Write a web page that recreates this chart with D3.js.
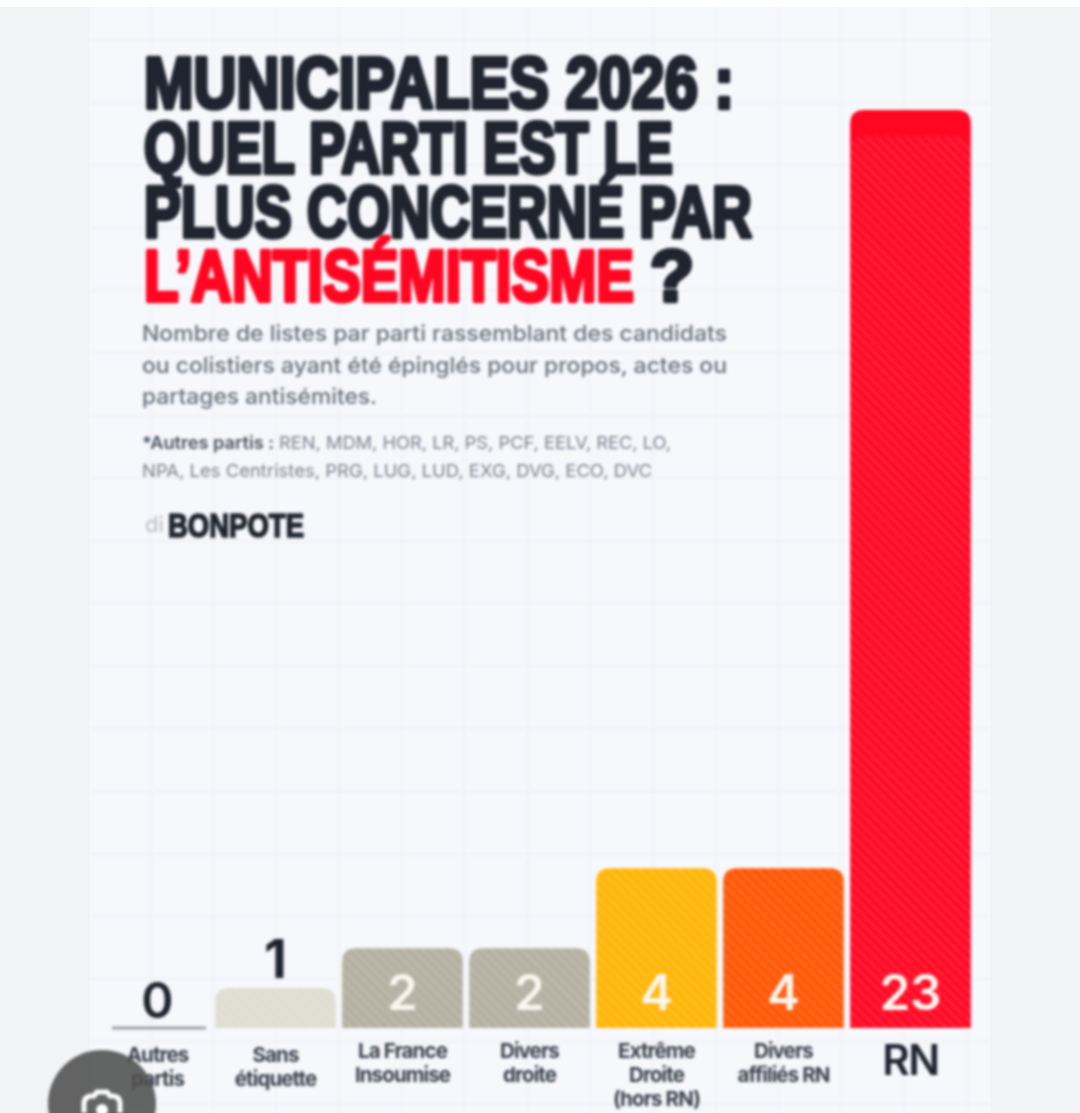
<!DOCTYPE html>
<html lang="fr"><head><meta charset="utf-8">
<script src="https://cdnjs.cloudflare.com/ajax/libs/d3/7.8.5/d3.min.js"></script>
<style>html,body{margin:0;padding:0;background:#fff;overflow:hidden}svg{display:block}
#soft{filter:blur(1.5px)}</style></head><body><svg id="c" width="1080" height="1113"></svg>
<script>
const categories=["Autres partis","Sans étiquette","La France Insoumise","Divers droite","Extrême Droite (hors RN)","Divers affiliés RN","RN"];
const values=[0,1,2,2,4,4,23];
const colors=["#8f9096","#dfdcd1","#b3afa0","#b3afa0","#ffb506","#ff5604","#ff0622"];
const labelLines=[["Autres","partis"],["Sans","étiquette"],["La France","Insoumise"],["Divers","droite"],["Extrême","Droite","(hors RN)"],["Divers","affiliés RN"],["RN"]];
const titleLines=[["MUNICIPALES 2026 :",144,590,108],["QUEL PARTI EST LE",144,529,173],["PLUS CONCERNÉ PAR",144,608,237]];
const subtitleLines=[["Nombre de listes par parti rassemblant des candidats",585],["ou colistiers ayant été épinglés pour propos, actes ou",585],["partages antisémites.",235]];
const footLines=[["REN, MDM, HOR, LR, PS, PCF, EELV, REC, LO,",392],["NPA, Les Centristes, PRG, LUG, LUD, EXG, DVG, ECO, DVC",510]];

const svg=d3.select("#c");
const ink="#20242f";
svg.append("rect").attr("width",1080).attr("height",1113).attr("fill","#fff");
svg.append("rect").attr("y",7).attr("width",1080).attr("height",1106).attr("fill","#f2f3f5");
svg.append("rect").attr("x",90).attr("y",7).attr("width",900).attr("height",1106).attr("fill","#f6f8fc");
const g=svg.append("g").attr("id","soft");
// background grid
g.append("g").selectAll("line").data(d3.range(150.6,990,62.8)).join("line")
 .attr("x1",d=>d).attr("x2",d=>d).attr("y1",7).attr("y2",1113).attr("stroke","#f0f1f6").attr("stroke-width",1.6);
g.append("g").selectAll("line").data(d3.range(40,1113,62.6)).join("line")
 .attr("y1",d=>d).attr("y2",d=>d).attr("x1",90).attr("x2",990).attr("stroke","#f0f1f6").attr("stroke-width",1.6);

const defs=svg.append("defs");
const pat=defs.append("pattern").attr("id","hatch").attr("patternUnits","userSpaceOnUse")
 .attr("width",7).attr("height",7).attr("patternTransform","rotate(45)");
pat.append("rect").attr("width",7).attr("height",3.5).attr("fill","#fff").attr("opacity",0.1);

const x=d3.scaleBand().domain(categories).range([85,974]).paddingInner(0.05).paddingOuter(0.025);
const y=d3.scaleLinear().domain([0,23]).range([1028,110]);
const bw=x.bandwidth();
const firstShift=9;
const cx=(d,i)=>x(d)+bw/2+(i===0?firstShift:0);
const r=14;
const barPath=(l,t,w,b)=>`M${l},${b}V${t+r}Q${l},${t} ${l+r},${t}H${l+w-r}Q${l+w},${t} ${l+w},${t+r}V${b}Z`;
const bars=categories.map((c,i)=>({c,i,v:values[i],col:colors[i]})).filter(d=>d.v>0);
g.append("g").selectAll("path").data(bars).join("path")
 .attr("d",d=>barPath(x(d.c),y(d.v),bw,y(0))).attr("fill",d=>d.col);
g.append("g").selectAll("path").data(bars).join("path")
 .attr("d",d=>barPath(x(d.c),y(d.v)+(d.v>10?26:0),bw,y(0))).attr("fill","url(#hatch)");
// zero bar
g.append("line").attr("x1",112).attr("x2",206).attr("y1",y(0)).attr("y2",y(0)).attr("stroke",colors[0]).attr("stroke-width",2.5);

const num="Inter, 'Noto Sans', sans-serif";
g.append("g").selectAll("text").data(categories).join("text")
 .attr("x",cx)
 .attr("y",(d,i)=>values[i]<2?y(values[i])-10:1010)
 .attr("text-anchor","middle").attr("font-family",num).attr("font-size",(d,i)=>i===1?53:49).attr("font-weight",(d,i)=>i===1?700:600)
 .attr("fill",(d,i)=>values[i]<2?ink:"#fbf6ee").text((d,i)=>values[i]);

// category labels
const lab=g.append("g").selectAll("g").data(categories).join("g")
 .attr("transform",(d,i)=>`translate(${cx(d,i)},0)`);
lab.selectAll("text").data((d,i)=>labelLines[i].map((t,j)=>({t,j,i}))).join("text")
 .attr("text-anchor","middle").attr("font-family",num)
 .attr("y",d=>d.i===6?1075:(d.i<2?1062:1058)+d.j*24)
 .attr("font-size",d=>d.i===6?42:20.5).attr("font-weight",d=>d.i===6?600:700)
 .attr("letter-spacing",d=>d.i===6?-1.5:-0.9).attr("fill",d=>d.i===6?ink:"#3a3f4b").text(d=>d.t);

// title
const tf="'Liberation Sans Narrow','Liberation Sans',sans-serif";
const tg=g.append("g").attr("font-family",tf).attr("font-size",72).attr("font-weight",700).attr("stroke-width",4.6).attr("stroke-linejoin","round");
tg.selectAll("text.l").data(titleLines).join("text").attr("class","l")
 .attr("x",d=>d[1]).attr("y",d=>d[3]).attr("textLength",d=>d[2]).attr("lengthAdjust","spacingAndGlyphs")
 .attr("fill",ink).attr("stroke",ink).text(d=>d[0]);
tg.append("text").attr("x",144).attr("y",301).attr("textLength",490).attr("lengthAdjust","spacingAndGlyphs")
 .attr("fill","#ff0622").attr("stroke","#ff0622").text("L’ANTISÉMITISME");
tg.append("text").attr("x",650).attr("y",301).attr("fill",ink).attr("stroke",ink).text("?");

// subtitle
g.append("g").selectAll("text").data(subtitleLines).join("text")
 .attr("x",142).attr("y",(d,i)=>341+i*31.5).attr("font-family",num).attr("font-size",21).attr("font-weight",500)
 .attr("textLength",d=>d[1]).attr("lengthAdjust","spacingAndGlyphs").attr("fill","#6a707c").text(d=>d[0]);
// footnote
const fn=g.append("g").attr("font-family",num).attr("font-size",17.5).attr("fill","#7b808b");
fn.append("text").attr("x",142).attr("y",449).attr("font-weight",600).attr("fill","#4a4f5a")
 .attr("textLength",132).attr("lengthAdjust","spacingAndGlyphs").text("*Autres partis :");
fn.append("text").attr("x",279).attr("y",449).attr("textLength",footLines[0][1]).attr("lengthAdjust","spacingAndGlyphs").text(footLines[0][0]);
fn.append("text").attr("x",142).attr("y",477).attr("textLength",footLines[1][1]).attr("lengthAdjust","spacingAndGlyphs").text(footLines[1][0]);
// logo
g.append("text").attr("x",145).attr("y",532).attr("font-family",num).attr("font-size",22).attr("fill","#b9bcc4").text("di");
g.append("text").attr("x",168).attr("y",537).attr("textLength",136).attr("lengthAdjust","spacingAndGlyphs")
 .attr("font-family",tf).attr("font-weight",700).attr("font-size",33).attr("fill",ink).attr("stroke",ink).attr("stroke-width",1.6).text("BONPOTE");

// overlay button from the screenshot
const cam=g.append("g");
cam.append("circle").attr("cx",102).attr("cy",1104).attr("r",54).attr("fill","#4f4f4f").attr("opacity",0.88);
cam.append("path").attr("d","M84,1113V1104Q84,1096 92,1096H94L97,1092H107L110,1096H112Q120,1096 120,1104V1113").attr("fill","none").attr("stroke","#fff").attr("stroke-width",5);
cam.append("circle").attr("cx",102).attr("cy",1110).attr("r",6).attr("fill","#fff");
</script></body></html>
